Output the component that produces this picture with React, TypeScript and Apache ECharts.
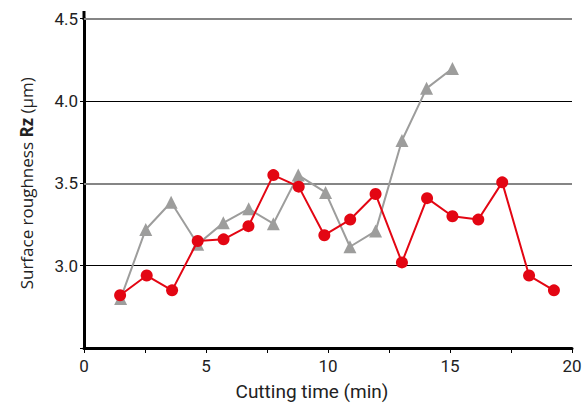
import React, { useEffect, useRef } from "react";
import * as echarts from "echarts";

const redX = [1.48, 2.57, 3.61, 4.66, 5.72, 6.74, 7.76, 8.8, 9.85, 10.91, 11.95, 13.03, 14.06, 15.1, 16.16, 17.14, 18.24, 19.26];
const redY = [2.82, 2.94, 2.85, 3.15, 3.16, 3.24, 3.55, 3.48, 3.185, 3.28, 3.435, 3.02, 3.41, 3.3, 3.28, 3.506, 2.94, 2.85];
const greyX = [1.5, 2.53, 3.57, 4.66, 5.71, 6.75, 7.76, 8.78, 9.9, 10.9, 11.95, 13.03, 14.04, 15.1];
const greyY = [2.8, 3.22, 3.385, 3.13, 3.26, 3.345, 3.255, 3.55, 3.445, 3.115, 3.21, 3.76, 4.077, 4.198];
const xTicks = [0, 5, 10, 15, 20];
const yTicks = [3.0, 3.5, 4.0, 4.5];
const gridBlack = [3.0, 4.0];
const gridGrey = [3.5, 4.5];

const FONT = "Roboto";

export default function App() {
  const ref = useRef<HTMLDivElement>(null);
  useEffect(() => {
    if (!ref.current) return;
    const chart = echarts.init(ref.current, undefined, { renderer: "svg" });
    chart.setOption({
      animation: false,
      grid: { left: 84, right: 14, top: 18.7, bottom: 62 },
      xAxis: {
        type: "value",
        min: 0,
        max: 20,
        interval: 2.5,
        name: "Cutting time (min)",
        nameLocation: "middle",
        nameGap: 34,
        nameTextStyle: { fontFamily: FONT, fontSize: 19, color: "#222", padding: [0, 32, 0, 0] },
        axisLine: { lineStyle: { color: "#000", width: 3 } },
        axisTick: { show: true, length: 5, lineStyle: { color: "#000", width: 1 } },
        axisLabel: {
          margin: 9,
          fontFamily: FONT,
          fontSize: 17,
          color: "#222",
          formatter: (v: number) => (xTicks.includes(v) ? String(v) : ""),
        },
        splitLine: { show: false },
      },
      yAxis: {
        type: "value",
        min: 2.5,
        max: 4.5,
        interval: 0.5,
        name: "{n|Surface roughness }{b|Rz}{n| (μm)}",
        nameLocation: "middle",
        nameRotate: 90,
        nameGap: 49,
        nameTextStyle: {
          rich: {
            n: { fontFamily: "Open Sans", fontSize: 17, color: "#222" },
            b: { fontFamily: "Open Sans", fontSize: 17, fontWeight: "bold", color: "#222" },
          },
        },
        axisLine: { show: true, lineStyle: { color: "#000", width: 3 } },
        axisTick: { show: true, length: 4, lineStyle: { color: "#000", width: 1 } },
        axisLabel: {
          margin: 6,
          fontFamily: FONT,
          fontSize: 17,
          color: "#222",
          formatter: (v: number) => (yTicks.some((t) => Math.abs(t - v) < 1e-6) ? v.toFixed(1) : ""),
        },
        splitLine: { show: false },
      },
      graphic: [
        { type: "line", shape: { x1: 84, y1: 11, x2: 84, y2: 20 }, style: { stroke: "#000", lineWidth: 3 } },
      ],
      series: [
        {
          type: "line",
          data: greyX.map((x, i) => [x, greyY[i]]),
          symbol: "triangle",
          symbolSize: 13,
          itemStyle: { color: "#9d9d9c" },
          lineStyle: { color: "#9d9d9c", width: 2 },
          z: 2,
          markLine: {
            silent: true,
            symbol: "none",
            label: { show: false },
            z: 1,
            data: [
              ...gridBlack.map((v) => ({ yAxis: v, lineStyle: { color: "#000", width: 1.2, type: "solid" } })),
              ...gridGrey.map((v) => ({ yAxis: v, lineStyle: { color: "#858585", width: 2, type: "solid" } })),
            ],
          },
        },
        {
          type: "line",
          data: redX.map((x, i) => [x, redY[i]]),
          symbol: "circle",
          symbolSize: 12,
          itemStyle: { color: "#e30613" },
          lineStyle: { color: "#e30613", width: 2 },
          z: 3,
        },
      ],
    });
    return () => chart.dispose();
  }, []);
  return <div ref={ref} style={{ width: 586, height: 410, position: "absolute", left: 0, top: 0 }} />;
}
